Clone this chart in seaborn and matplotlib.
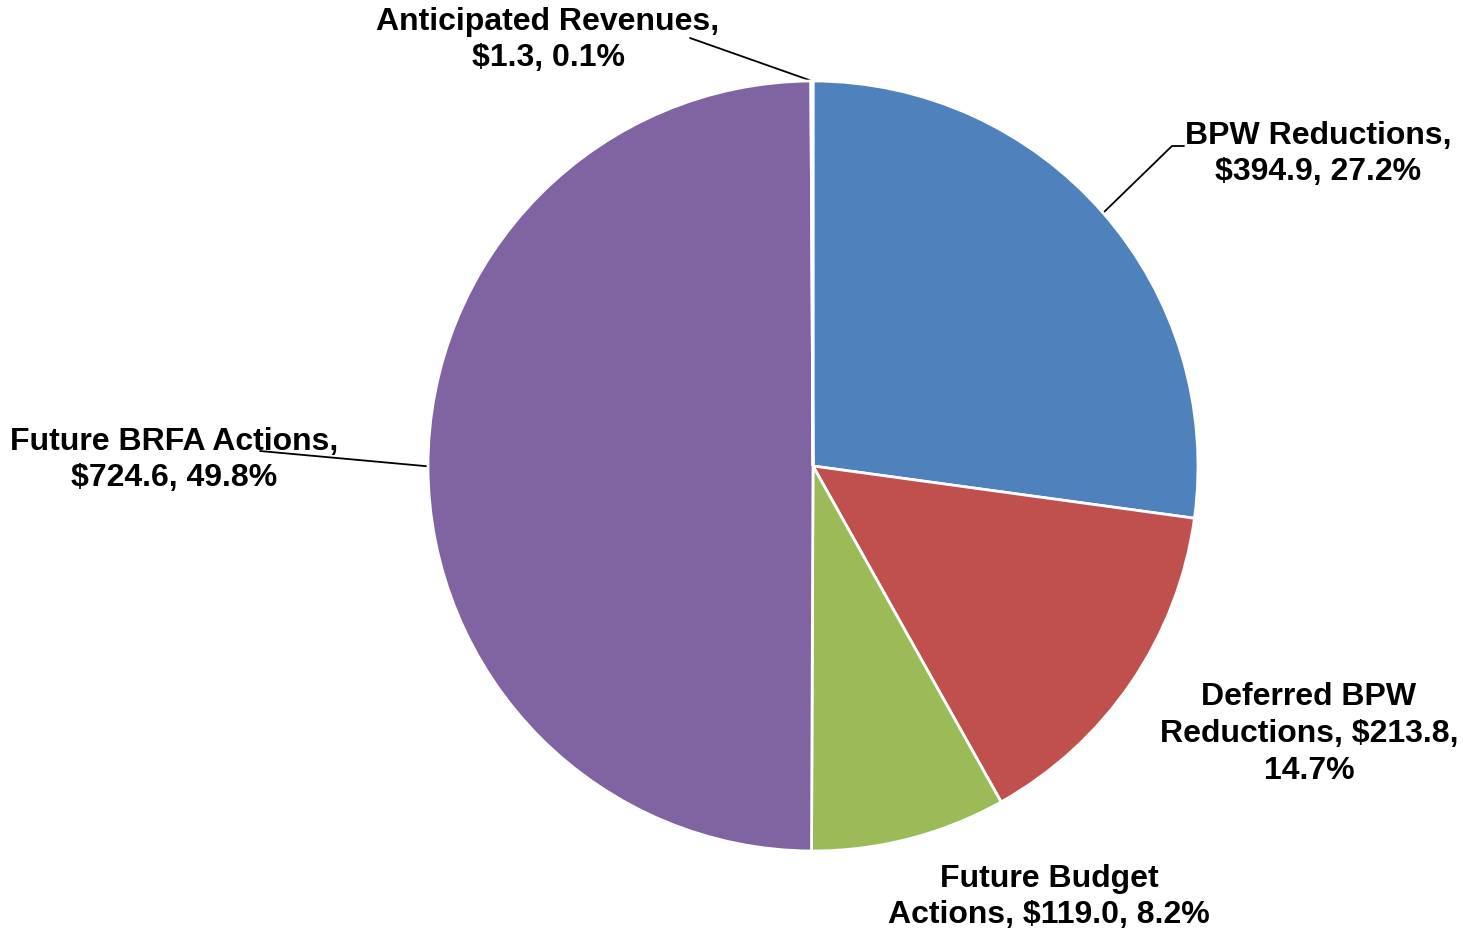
import numpy as np
import matplotlib
matplotlib.use("Agg")
import matplotlib.pyplot as plt
import seaborn as sns

# ---- data ----
categories = ["BPW Reductions", "Deferred BPW Reductions", "Future Budget Actions",
              "Future BRFA Actions", "Anticipated Revenues"]
values = [394.9, 213.8, 119.0, 724.6, 1.3]
percents = [27.2, 14.7, 8.2, 49.8, 0.1]
label_formats = [
    "BPW Reductions,\n${v:.1f}, {p:.1f}%",
    "Deferred BPW\nReductions, ${v:.1f},\n{p:.1f}%",
    "Future Budget\nActions, ${v:.1f}, {p:.1f}%",
    "Future BRFA Actions,\n${v:.1f}, {p:.1f}%",
    "Anticipated Revenues,\n${v:.1f}, {p:.1f}%",
]
colors = ["#4F81BD", "#C0504D", "#9BBB59", "#8064A2", "#4BACC6"]

sns.set_theme(style="white")
plt.rcParams["font.family"] = ["Liberation Sans", "DejaVu Sans"]

W, H = 1463, 931
fig = plt.figure(figsize=(W / 100, H / 100), dpi=100)
fig.patch.set_facecolor("white")

CX, CY, R = 813, 466, 385
ax = fig.add_axes([(CX - R) / W, (H - CY - R) / H, 2 * R / W, 2 * R / H])
wedges, _ = ax.pie(values, colors=colors, startangle=90, counterclock=False,
                   radius=1, center=(0, 0), frame=False,
                   wedgeprops=dict(edgecolor="white", linewidth=2))
ax.set_xlim(-1, 1)
ax.set_ylim(-1, 1)
ax.axis("off")


def d(x, y):
    return ((x - CX) / R, (CY - y) / R)


# label positions (pixel centers) and leader-line elbow points
label_pos = [(1318, 154), (1309, 734), (1049, 897), (174, 460), (548, 40)]
leaders = {
    0: [(1172, 146), (1184, 146)],
    3: [(260, 451)],
    4: [(690, 38)],
}

for i, (w, fmt) in enumerate(zip(wedges, label_formats)):
    txt = fmt.format(v=values[i], p=percents[i])
    lx, ly = d(*label_pos[i])
    ax.text(lx, ly, txt, ha="center", va="center", fontsize=23,
            fontweight="bold", color="black", linespacing=1.3, clip_on=False)
    if i in leaders:
        ang = np.deg2rad((w.theta1 + w.theta2) / 2)
        pts = [(np.cos(ang), np.sin(ang))] + [d(*p) for p in leaders[i]]
        xs, ys = zip(*pts)
        ax.plot(xs, ys, color="black", linewidth=1.3, clip_on=False, zorder=0.5)

fig.savefig("out.png", dpi=100, facecolor="white")
